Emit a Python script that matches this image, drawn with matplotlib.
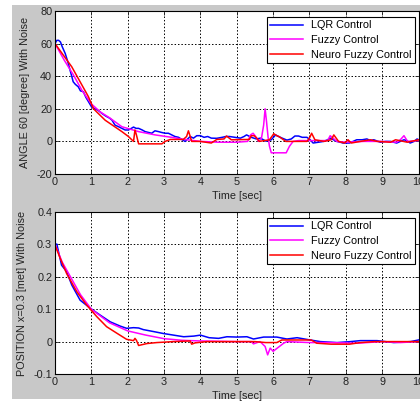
import matplotlib
matplotlib.use("Agg")
import matplotlib.pyplot as plt
from matplotlib.patches import Rectangle

plt.rcParams['font.family'] = ['Liberation Sans', 'DejaVu Sans']

# ---- angle panel data (deg) ----
t_ang_lqr = [0, 0.05, 0.1, 0.15, 0.2, 0.28, 0.35, 0.41, 0.46, 0.5, 0.56, 0.64, 0.7, 0.78, 0.85,
             0.92, 1.01, 1.1, 1.19, 1.3, 1.4, 1.5, 1.57, 1.65, 1.75, 1.84, 1.93, 2.02, 2.1, 2.16,
             2.23, 2.3, 2.4, 2.48, 2.57, 2.66, 2.75, 2.85, 2.93, 3.03, 3.12, 3.21, 3.3, 3.4, 3.5,
             3.58, 3.65, 3.72, 3.81, 3.9, 4.0, 4.1, 4.2, 4.3, 4.45, 4.6, 4.7, 4.8, 4.95, 5.1,
             5.2, 5.27, 5.4, 5.54, 5.65, 5.8, 5.95, 6.07, 6.15, 6.25, 6.38, 6.5, 6.6, 6.7, 6.8,
             6.93, 7.02, 7.1, 7.25, 7.39, 7.5, 7.57, 7.66, 7.75, 7.85, 7.92, 8.1, 8.2, 8.3, 8.45,
             8.58, 8.68, 8.77, 8.95, 9.1, 9.23, 9.4, 9.5, 9.6, 9.68, 9.77, 9.88, 9.96, 10.0]
y_ang_lqr = [60, 62, 62, 61, 58, 54, 49, 44, 40, 36.6, 35, 33.5, 31, 30.5, 27,
             24.4, 21, 20, 19, 17, 15.5, 14.3, 13, 10, 9, 8, 7, 7, 8, 8.8,
             8, 8, 7, 6, 5.5, 5, 6.5, 6, 5.5, 5, 5, 4, 3, 2.5, 1,
             0, 1.5, 3, 2, 3.5, 3.5, 2.5, 3, 2, 1.9, 2.5, 3, 3, 2.5, 2,
             3, 4, 2.5, 1.5, 2, 0.2, 1, 4, 3, 2, 0.8, 1.5, 3.3, 3.3, 2.5,
             2.5, 1, -1, -0.5, 0, 1, 2, 1, 0, -0.5, -1, -1, 0, 1, 1,
             1.5, 0.5, 1, -0.5, 0, 0, -1, 0, 1, 0.5, -1, 0, 1.5, 1]

t_ang_fuzzy = [0, 0.25, 0.5, 0.75, 1.0, 1.25, 1.5, 1.84, 2.3, 2.75, 3.21, 3.53, 4.0, 4.5, 5.0,
               5.3, 5.38, 5.45, 5.52, 5.6, 5.68, 5.74, 5.78, 5.82, 5.86, 5.9, 5.95, 6.0, 6.2,
               6.36, 6.45, 6.55, 6.7, 7.0, 7.5, 7.57, 7.65, 7.75, 8.0, 8.5, 9.0, 9.4, 9.5,
               9.6, 9.7, 10.0]
y_ang_fuzzy = [60, 50, 41, 31, 23, 18, 14.5, 9, 6, 4, 2.5, 1.3, 0, -0.5, -0.5,
               0, 4, 5, 3, 0, 2, 10, 20, 12, 3, -3, -7, -7, -7,
               -7, -3, 0, 0.5, 0.5, 0.5, 3.5, 2, 0, -0.5, 0, 0, -0.5, 1,
               3.5, 0, 0.5]

t_ang_neuro = [0, 0.46, 0.92, 1.06, 1.38, 1.84, 2.02, 2.16, 2.2, 2.24, 2.3, 2.6, 2.94, 3.03,
               3.17, 3.53, 3.62, 3.67, 3.72, 3.76, 3.99, 4.3, 4.45, 4.65, 4.72, 4.85, 5.35,
               5.4, 5.48, 5.55, 5.62, 5.9, 6.02, 6.1, 6.16, 6.35, 6.93, 7.0, 7.06, 7.15, 7.4,
               7.6, 7.67, 7.8, 7.97, 8.06, 8.15, 8.4, 8.68, 8.86, 9.23, 9.37, 9.69, 10.0]
y_ang_neuro = [60, 45.8, 27.4, 20, 13, 6, 3, 0, 7, 4, -1.5, -1.5, -1.5, 0,
               1.2, 1.2, 3, 6.5, 3, 0, 0, -1, 1.2, 1.5, 3.3, 1, 1.2,
               3.5, 3.5, 2, 0, 1, 4.7, 3.5, 3, 0, 0, 2, 5, 1, 0,
               1, 4, 0, -1, 1, -1, 0, 1, 0, -0.5, 1, -0.5, 1]

# ---- position panel data (m) ----
t_pos_lqr = [0, 0.05, 0.18, 0.32, 0.46, 0.69, 0.97, 1.24, 1.52, 1.79, 1.97, 2.16, 2.3, 2.43,
             2.71, 2.98, 3.26, 3.54, 3.82, 4.0, 4.24, 4.5, 4.73, 5.0, 5.28, 5.46, 5.74, 6.1,
             6.38, 6.66, 7.02, 7.3, 7.76, 8.13, 8.4, 8.86, 9.32, 9.78, 10.0]
y_pos_lqr = [0.3, 0.301, 0.236, 0.216, 0.175, 0.128, 0.103, 0.082, 0.061, 0.048, 0.041, 0.043,
             0.042, 0.037, 0.031, 0.025, 0.02, 0.015, 0.017, 0.02, 0.012, 0.01, 0.015, 0.014,
             0.015, 0.008, 0.014, 0.014, 0.008, 0.012, 0.005, 0.0, -0.003, 0.0, 0.003, 0.003,
             -0.003, 0.0, 0.005]

t_pos_fuzzy = [0, 0.2, 0.4, 0.7, 1.0, 1.5, 2.0, 2.5, 3.0, 3.5, 4.0, 5.0, 5.4, 5.46, 5.64,
               5.78, 5.85, 5.92, 6.0, 6.29, 6.38, 7.0, 7.5, 8.31, 9.0, 9.5, 10.0]
y_pos_fuzzy = [0.3, 0.245, 0.205, 0.145, 0.1, 0.058, 0.033, 0.02, 0.009, 0.004, 0.002, 0.0,
               0.0, -0.007, 0.0, -0.015, -0.041, -0.02, -0.03, -0.005, 0.0, -0.003, -0.003,
               -0.005, 0.0, -0.003, 0.0]

t_pos_neuro = [0, 0.14, 0.32, 0.6, 0.87, 1.15, 1.42, 1.7, 1.97, 2.16, 2.2, 2.24, 2.3, 2.53,
               2.8, 3.26, 3.72, 3.76, 3.85, 4.17, 5.5, 5.8, 6.1, 6.24, 6.7, 7.05, 7.2, 7.6, 8.1,
               8.4, 8.8, 10.0]
y_pos_neuro = [0.298, 0.258, 0.21, 0.154, 0.113, 0.077, 0.046, 0.026, 0.007, 0.003, 0.01,
               0.004, -0.012, -0.006, -0.003, 0.0, 0.002, -0.008, -0.004, 0.0, 0.0, -0.003,
               -0.003, 0.005, 0.005, 0.005, -0.005, -0.008, -0.008, -0.003, 0.0, 0.0]

labels = ['LQR Control', 'Fuzzy Control', 'Neuro Fuzzy Control']
colors = ['#0000ff', '#ff00ff', '#ff0000']

fig = plt.figure(figsize=(4.2, 4.01), dpi=100)
fig.patch.set_facecolor('white')
# grey window area (white strip left and top, like the screenshot)
fig.patches.append(Rectangle((12 / 420, 2 / 401), 1, 1 - 7 / 401, transform=fig.transFigure,
                             facecolor='#c8c8c8', edgecolor='none', zorder=-10))

ax1 = fig.add_axes([55 / 420, 1 - 174 / 401, 363.5 / 420, 163 / 401])
ax2 = fig.add_axes([55 / 420, 1 - 374 / 401, 363.5 / 420, 162 / 401])

panels = [
    (ax1, [(t_ang_lqr, y_ang_lqr), (t_ang_fuzzy, y_ang_fuzzy), (t_ang_neuro, y_ang_neuro)],
     (-20, 80), [-20, 0, 20, 40, 60, 80], ['-20', '0', '20', '40', '60', '80'],
     'ANGLE 60 [degree] With Noise'),
    (ax2, [(t_pos_lqr, y_pos_lqr), (t_pos_fuzzy, y_pos_fuzzy), (t_pos_neuro, y_pos_neuro)],
     (-0.1, 0.4), [-0.1, 0, 0.1, 0.2, 0.3, 0.4], ['-0.1', '0', '0.1', '0.2', '0.3', '0.4'],
     'POSITION x=0.3 [met] With Noise'),
]

fs = 7.8
for ax, series, ylim, yt, ytl, ylab in panels:
    ax.set_facecolor('white')
    for (t, y), c, lab in zip(series, colors, labels):
        ax.plot(t, y, color=c, lw=1.1, label=lab)
    ax.set_xlim(0, 10)
    ax.set_ylim(*ylim)
    ax.set_xticks(range(11))
    ax.set_yticks(yt)
    ax.set_yticklabels(ytl)
    ax.grid(True, color='black', linestyle=(0, (1.5, 2.0)), linewidth=0.7)
    ax.tick_params(direction='in', length=3, width=0.6, top=True, right=True,
                   labelsize=fs, colors='#222222', pad=2)
    for sp in ax.spines.values():
        sp.set_linewidth(0.8)
    ax.set_xlabel('Time [sec]', fontsize=fs, labelpad=3, color='#222222')
    ax.set_ylabel(ylab, fontsize=fs, labelpad=5, color='#222222')
    leg = ax.legend(loc='upper right', bbox_to_anchor=(0.99, 0.965), fontsize=fs,
                    fancybox=False, framealpha=1, edgecolor='black', handlelength=3.0,
                    borderpad=0.35, labelspacing=0.42, handletextpad=0.7, borderaxespad=0)
    leg.get_frame().set_linewidth(0.8)

plt.savefig('out.png', dpi=100, facecolor=fig.get_facecolor())
